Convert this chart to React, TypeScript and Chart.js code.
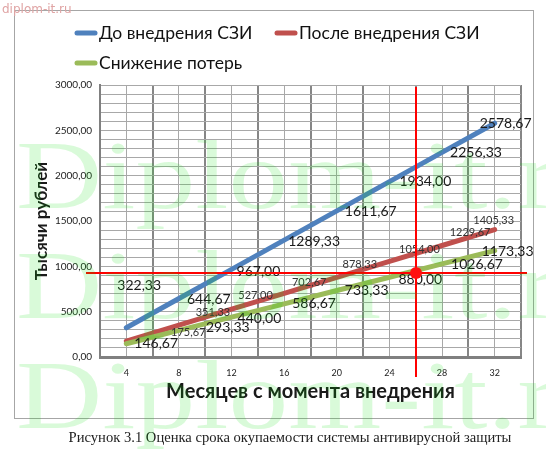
import React, { useEffect, useRef } from "react";
import { Chart, registerables } from "chart.js";

Chart.register(...registerables);

// ---- data ----
const months = [4, 8, 12, 16, 20, 24, 28, 32];
const beforeSZI = [322.33, 644.67, 967.0, 1289.33, 1611.67, 1934.0, 2256.33, 2578.67];
const afterSZI = [175.67, 351.33, 527.0, 702.67, 878.33, 1054.0, 1229.67, 1405.33];
const lossReduction = [146.67, 293.33, 440.0, 586.67, 733.33, 880.0, 1026.67, 1173.33];
const seriesNames = ["До внедрения СЗИ", "После внедрения СЗИ", "Снижение потерь"];
const yLabelValues = [0, 500, 1000, 1500, 2000, 2500, 3000];
const paybackMonth = 26;
const paybackLevel = 930;
const xTitle = "Месяцев с момента внедрения";
const yTitle = "Тысячи рублей";
const caption = "Рисунок 3.1 Оценка срока окупаемости системы антивирусной защиты";

// ---- styling / layout (not data) ----
const colors = ["#4F81BD", "#C0504D", "#9BBB59"];
const drawOrder = [2, 1, 0];
const labelStyles = [
  { font: '14px Lato', color: "#1a1a1a", align: "left" as CanvasTextAlign },
  { font: '11px Lato', color: "#333333", align: "center" as CanvasTextAlign },
  { font: '14px Lato', color: "#1a1a1a", align: "left" as CanvasTextAlign },
];
// pixel nudges of the value labels relative to their points (manually placed in original)
const labelNudges = [
  [[-9, -42], [8, 1], [5, 2], [4, 1], [8, 1], [10, 0], [8, 0], [-15, 0]],
  [[62, -9], [34, -13], [24, -14], [25, -11], [23, -13], [30, -12], [28, -13], [-1, -9]],
  [[8, 0], [27, -3], [6, 1], [8, 0], [8, 0], [9, 2], [9, 1], [-13, 1]],
];
const legendSlots = [
  [75, 33],
  [275, 33],
  [75, 63],
];

const fmt = (v: number) => v.toFixed(2).replace(".", ",");

const decorPlugin = {
  id: "decor",
  beforeDraw(chart: any) {
    const ctx = chart.ctx as CanvasRenderingContext2D;
    ctx.save();
    ctx.fillStyle = "#ffffff";
    ctx.fillRect(0, 0, chart.width, chart.height);
    // outer frame
    ctx.strokeStyle = "#a6a6a6";
    ctx.lineWidth = 1;
    ctx.strokeRect(14.5, 10.5, 519, 408);
    ctx.restore();
  },
  afterDatasetsDraw(chart: any) {
    const ctx = chart.ctx as CanvasRenderingContext2D;
    const xs = chart.scales.x;
    const ys = chart.scales.y;
    const series = [beforeSZI, afterSZI, lossReduction];
    ctx.save();
    ctx.textBaseline = "middle";
    series.forEach((vals, si) => {
      const st = labelStyles[si];
      ctx.font = st.font;
      ctx.fillStyle = st.color;
      ctx.textAlign = st.align;
      vals.forEach((v, i) => {
        const px = xs.getPixelForValue(months[i]);
        const py = ys.getPixelForValue(v);
        const [dx, dy] = labelNudges[si][i];
        ctx.fillText(fmt(v), px + dx, py + dy);
      });
    });
    // payback crosshair
    const cx = Math.round(xs.getPixelForValue(paybackMonth));
    const cy = Math.round(ys.getPixelForValue(paybackLevel));
    ctx.strokeStyle = "#ff0000";
    ctx.lineWidth = 2;
    ctx.beginPath();
    ctx.moveTo(cx, chart.chartArea.top + 2);
    ctx.lineTo(cx, chart.chartArea.bottom + 20);
    ctx.moveTo(chart.chartArea.left - 14, cy);
    ctx.lineTo(chart.chartArea.right + 6, cy);
    ctx.stroke();
    ctx.fillStyle = "#ff1010";
    ctx.beginPath();
    ctx.arc(cx, cy, 6, 0, Math.PI * 2);
    ctx.fill();
    ctx.restore();
  },
  afterDraw(chart: any) {
    const ctx = chart.ctx as CanvasRenderingContext2D;
    ctx.save();
    // legend
    ctx.textBaseline = "middle";
    ctx.textAlign = "left";
    ctx.font = '17.5px Lato';
    seriesNames.forEach((name, i) => {
      const [lx, ly] = legendSlots[i];
      ctx.strokeStyle = colors[i];
      ctx.lineWidth = 5;
      ctx.lineCap = "round";
      ctx.beginPath();
      ctx.moveTo(lx + 2, ly);
      ctx.lineTo(lx + 20, ly);
      ctx.stroke();
      ctx.fillStyle = "#111111";
      ctx.fillText(name, lx + 24, ly);
    });
    // caption
    ctx.font = '14.6px "Liberation Serif"';
    ctx.textAlign = "center";
    ctx.fillStyle = "#222222";
    ctx.fillText(caption, 290, 438);
    // big watermark
    ctx.fillStyle = "rgba(0, 220, 0, 0.15)";
    ctx.textAlign = "left";
    ctx.textBaseline = "alphabetic";
    ctx.font = '98px "Liberation Serif"';
    [208, 318, 428].forEach((by) => {
      ctx.save();
      ctx.translate(16, by);
      ctx.scale(1.22, 1);
      ctx.fillText("Diplom-it.ru", 0, 0);
      ctx.restore();
    });
    // small watermark
    ctx.font = '12px "DejaVu Sans"';
    ctx.fillStyle = "#e0a4a4";
    ctx.textBaseline = "middle";
    ctx.fillText("diplom-it.ru", 2, 10);
    ctx.restore();
  },
};

export default function App() {
  const canvasRef = useRef<HTMLCanvasElement | null>(null);

  useEffect(() => {
    if (!canvasRef.current) return;
    const seriesVals = [beforeSZI, afterSZI, lossReduction];
    const chart = new Chart(canvasRef.current, {
      type: "line",
      data: {
        datasets: seriesVals.map((vals, si) => ({
          label: seriesNames[si],
          data: months.map((m, i) => ({ x: m, y: vals[i] })),
          borderColor: colors[si],
          backgroundColor: colors[si],
          borderWidth: 5,
          pointRadius: 0,
          tension: 0,
          order: drawOrder[si],
          borderCapStyle: "round",
        })),
      },
      options: {
        responsive: false,
        animation: false,
        events: [],
        layout: { padding: { left: 0, right: 25, top: 85, bottom: 0 } },
        plugins: {
          legend: { display: false },
          tooltip: { enabled: false },
          title: { display: false },
        },
        scales: {
          x: {
            type: "linear",
            min: 2,
            max: 34,
            afterFit: (s: any) => {
              s.height = 103;
            },
            ticks: {
              stepSize: 2,
              autoSkip: false,
              maxRotation: 0,
              padding: 11,
              color: "#222222",
              font: { family: "Lato", size: 9 },
              callback: (v: any) => (months.includes(Number(v)) ? String(v) : ""),
            },
            grid: {
              drawTicks: false,
              color: (c: any) => (c.tick && c.tick.value % 4 === 2 ? "#868686" : "#a8a8a8"),
              lineWidth: (c: any) => (c.tick && c.tick.value % 4 === 2 ? 2 : 1),
            },
            border: { display: true, color: "#808080", width: 3 },
            title: {
              display: true,
              text: xTitle,
              color: "#1a1a1a",
              font: { family: "Lato", size: 20, weight: "bold" },
              padding: { top: 0, bottom: 56 },
            },
          },
          y: {
            min: 0,
            max: 3000,
            afterFit: (s: any) => {
              s.width = 100;
            },
            ticks: {
              stepSize: 100,
              autoSkip: false,
              padding: 8,
              color: "#222222",
              font: { family: "Lato", size: 10 },
              callback: (v: any) => (yLabelValues.includes(Number(v)) ? fmt(Number(v)) : ""),
            },
            grid: {
              drawTicks: false,
              color: "#a8a8a8",
              lineWidth: 1,
            },
            border: { display: true, color: "#808080", width: 2 },
            title: {
              display: true,
              text: yTitle,
              color: "#1a1a1a",
              font: { family: "Lato", size: 17, weight: "bold" },
              padding: { top: 31, bottom: 0 },
            },
          },
        },
      },
      plugins: [decorPlugin],
    });
    return () => chart.destroy();
  }, []);

  return (
    <div style={{ position: "absolute", left: 0, top: 0, width: 546, height: 460 }}>
      <canvas ref={canvasRef} width={546} height={460} style={{ width: 546, height: 460 }} />
    </div>
  );
}
